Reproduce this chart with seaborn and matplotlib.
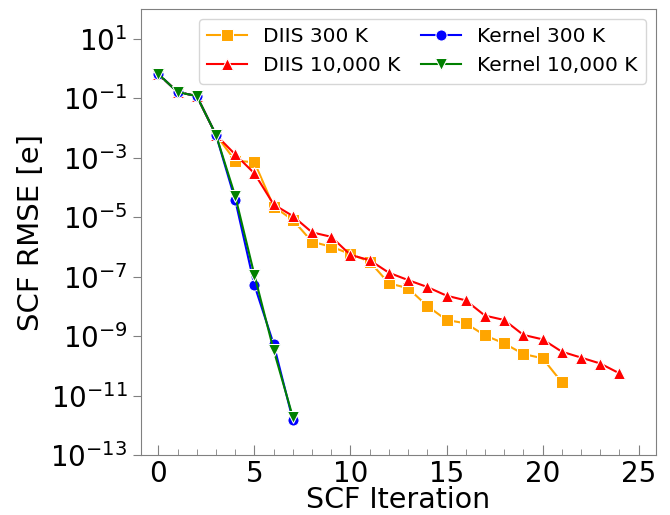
import seaborn as sns
import pandas as pd
import matplotlib.pyplot as plt

iters = list(range(25))

diis_300 = [0.66, 0.164, 0.12, 5.9e-3, 8.0e-4, 7.1e-4, 2.3e-5, 8.1e-6, 1.5e-6, 1.02e-6,
            5.8e-7, 3.2e-7, 6.0e-8, 4.1e-8, 1.03e-8, 3.5e-9, 2.7e-9, 1.06e-9, 5.7e-10,
            2.5e-10, 1.8e-10, 2.8e-11]
diis_10000 = [0.66, 0.164, 0.12, 5.9e-3, 1.3e-3, 3.0e-4, 2.7e-5, 1.1e-5, 3.1e-6, 2.2e-6,
              5.4e-7, 3.6e-7, 1.36e-7, 7.7e-8, 4.5e-8, 2.3e-8, 1.6e-8, 4.9e-9, 3.5e-9,
              1.1e-9, 7.8e-10, 3.0e-10, 1.9e-10, 1.2e-10, 5.6e-11]
kernel_300 = [0.66, 0.164, 0.12, 5.9e-3, 3.8e-5, 5.2e-8, 5.4e-10, 1.5e-12]
kernel_10000 = [0.66, 0.164, 0.12, 5.9e-3, 5.2e-5, 1.14e-7, 3.4e-10, 1.9e-12]

series = [
    ("DIIS 300 K", diis_300, "orange", "s"),
    ("DIIS 10,000 K", diis_10000, "red", "^"),
    ("Kernel 300 K", kernel_300, "blue", "o"),
    ("Kernel 10,000 K", kernel_10000, "green", "v"),
]

fig, ax = plt.subplots(figsize=(6.7, 5.15), dpi=100)
fig.subplots_adjust(left=0.21, right=0.979, bottom=0.1165, top=0.982)

for name, vals, col, mk in series:
    df = pd.DataFrame({"iter": iters[:len(vals)], "rmse": vals})
    sns.lineplot(data=df, x="iter", y="rmse", color=col, marker=mk, markersize=8,
                 linewidth=1.5, label=name, ax=ax)

ax.set_yscale("log")
ax.set_ylim(1e-13, 1e2)
ax.set_xlim(-0.92, 25.9)
ax.set_yticks([10.0 ** k for k in range(1, -14, -2)])
ax.minorticks_off()
ax.set_xticks(range(0, 26, 5))
ax.set_xticks(range(0, 26), minor=True)
ax.tick_params(axis="x", which="both", direction="in", colors="gray", labelcolor="black",
               labelsize=20)
ax.tick_params(axis="x", which="major", length=7)
ax.tick_params(axis="x", which="minor", length=4)
ax.tick_params(axis="y", which="major", direction="out", colors="gray", labelcolor="black",
               labelsize=20, length=6)
for s in ax.spines.values():
    s.set_color("gray")

ax.set_xlabel("SCF Iteration", fontsize=20.5, labelpad=-1)
ax.set_ylabel("SCF RMSE [e]", fontsize=21)
ax.legend(ncol=2, loc="upper right", fontsize=14.5, columnspacing=1.0)

plt.savefig("out.png")
